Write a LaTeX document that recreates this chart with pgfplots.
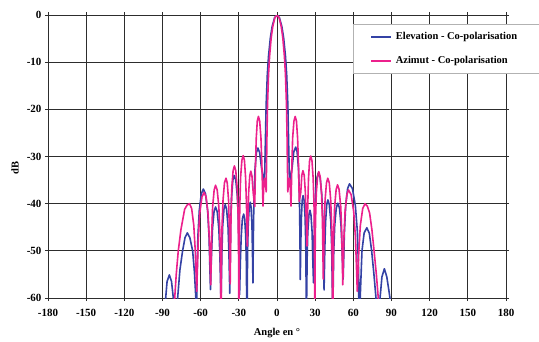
\documentclass[border=0pt]{standalone}
\usepackage{pgfplots}
\pgfplotsset{compat=1.18}
\usepackage{fontspec}
\setmainfont{Liberation Serif}
\definecolor{elev}{RGB}{52,66,165}
\definecolor{azim}{RGB}{236,32,140}
\definecolor{gridc}{RGB}{45,45,45}
\begin{document}
\begin{tikzpicture}
\begin{axis}[
  scale only axis, width=458pt, height=283pt,
  xmin=-180, xmax=180, ymin=-60, ymax=0,
  xtick={-180,-150,...,180}, ytick={-60,-50,...,0},
  grid=major, grid style={gridc, line width=0.8pt},
  axis line style={gridc, line width=0.8pt},
  tick style={gridc, line width=0.8pt},
  tick align=outside, major tick length=3pt,
  /pgf/number format/assume math mode=true,
  ticklabel style={font=\bfseries\fontsize{11}{13}\selectfont},
  xticklabel style={yshift=-5pt},
  xlabel={Angle en °}, ylabel={dB},
  label style={font=\bfseries\fontsize{10.5}{12}\selectfont},
  xlabel style={at={(axis description cs:0.5,-0.124)}, anchor=center},
  ylabel style={at={(axis description cs:-0.072,0.46)}, anchor=center},
  legend style={at={(axis description cs:0.666,0.968)}, anchor=north west,
    draw=gray!60, fill=white,
    font=\bfseries\fontsize{10.5}{12}\selectfont,
    inner xsep=17pt, inner ysep=6.5pt, row sep=12pt, column sep=3pt,
    nodes={inner sep=1pt, text height=7.5pt, text depth=2.5pt}},
  legend cell align=left,
  legend image code/.code={\draw[#1, line width=1.6pt] (0pt,0pt) -- (20pt,0pt);},
  every axis plot/.append style={line width=1.6pt, line join=round},
]
\addplot[color=elev] coordinates {
(-90.5,-70) (-87.5,-60) (-86.4,-56.5) (-84.6,-55.1) (-82.9,-56.5) (-81.5,-60) (-79.6,-75)
(-78.1,-60) (-76.3,-54) (-74.2,-50) (-72.3,-47.2) (-70.5,-46.2) (-68.5,-47.2) (-66.3,-50) (-64.9,-54.5) (-63.8,-60) (-63.3,-80)
(-62.9,-56.1) (-62.2,-47.1) (-61.1,-41.5) (-59.5,-37.9) (-57.9,-36.9) (-56.2,-37.9) (-54.5,-41.5) (-53.4,-47.1) (-52.3,-58.2)
(-51.5,-50.9) (-50.7,-45.3) (-49.5,-41.7) (-48.3,-40.7) (-47.0,-41.7) (-45.7,-45.3) (-44.9,-50.9) (-44,-61)
(-43.3,-50.4) (-42.7,-44.8) (-41.7,-41.2) (-40.7,-40.2) (-39.6,-41.2) (-38.5,-44.8) (-37.8,-50.4) (-37.1,-59)
(-36.4,-44.2) (-35.7,-38.6) (-34.7,-35.0) (-33.7,-34) (-32.4,-35.0) (-31.1,-38.6) (-30.3,-44.2) (-29.4,-59.3)
(-28.8,-52.4) (-28.1,-46.8) (-27.2,-43.2) (-26.2,-42.2) (-25.4,-43.2) (-24.6,-46.8) (-24.1,-52.4) (-23.8,-61.4) (-23.6,-80)
(-23.4,-58.9) (-23.1,-49.9) (-22.6,-44.3) (-21.8,-40.7) (-21,-39.7) (-20.4,-40.7) (-19.7,-44.3) (-19.3,-49.9) (-18.9,-56.8)
(-18.6,-47.4) (-18.1,-38.4) (-17.3,-32.8) (-16.2,-29.2) (-15,-28.2) (-13.6,-29.2) (-12.0,-32.8) (-9.8,-35.5)
(-9.03,-25.6) (-8.55,-19.2) (-7.6,-12.6) (-6.65,-8.7) (-5.23,-4.85) (-3.8,-2.42) (-1.9,-0.57) (0,0)
(1.9,-0.57) (3.8,-2.42) (5.23,-4.85) (6.65,-8.7) (7.6,-12.6) (8.55,-19.2) (9.03,-25.6) (9.8,-35.5)
(11.8,-32.6) (13.2,-29.0) (14.7,-28) (15.8,-29.0) (16.9,-32.6) (17.6,-38.2) (18.05,-47.2) (18.3,-56.1)
(18.7,-48.5) (19.2,-42.9) (19.8,-39.3) (20.5,-38.3) (21.3,-39.3) (22.1,-42.9) (22.6,-48.5) (22.9,-57.5) (23.1,-80)
(23.3,-60.6) (23.7,-51.6) (24.2,-46.0) (25.1,-42.4) (25.9,-41.4) (26.7,-42.4) (27.6,-46.0) (28.1,-51.6) (28.7,-56.8)
(29.5,-43.7) (30.2,-38.1) (31.4,-34.5) (32.5,-33.5) (33.9,-34.5) (35.2,-38.1) (36.1,-43.7) (37,-58.3)
(37.6,-49.4) (38.2,-43.8) (39.1,-40.2) (40,-39.2) (41.1,-40.2) (42.3,-43.8) (43.0,-49.4) (43.5,-58.4) (43.8,-80)
(44.1,-59.1) (44.6,-50.1) (45.4,-44.5) (46.6,-40.9) (47.8,-39.9) (49.1,-40.9) (50.3,-44.5) (51.2,-50.1) (52,-56)
(53.0,-46.0) (54.0,-40.4) (55.5,-36.8) (57,-35.8) (59.3,-36.8) (61.6,-40.4) (63.2,-46.0) (64.2,-55.0) (64.7,-80)
(65.4,-60) (66.8,-50) (68.5,-46.2) (70.6,-45.1) (72.6,-46.3) (74.4,-50) (76.2,-55) (77.8,-60) (78.8,-75)
(80.3,-65) (81.0,-60) (82.5,-55.5) (84.4,-53.8) (86.3,-55.5) (88.0,-58.5) (88.8,-60) (89.8,-66)
};
\addlegendentry{Elevation - Co-polarisation\hspace*{100pt}}
\addplot[color=azim] coordinates {
(-82,-70) (-80.4,-60) (-79.2,-55) (-77.6,-50) (-75.5,-45.5) (-72.6,-41.2) (-70.7,-40.3) (-68.8,-40)
(-67.1,-41.0) (-65.4,-44.6) (-64.2,-50.2) (-63.1,-58.6)
(-61.9,-47.8) (-60.8,-42.2) (-59.0,-38.6) (-57.3,-37.6) (-55.7,-38.6) (-54.2,-42.2) (-53.1,-47.8) (-52.1,-57.2)
(-51.3,-46.3) (-50.6,-40.7) (-49.4,-37.1) (-48.3,-36.1) (-47.0,-37.1) (-45.7,-40.7) (-44.9,-46.3) (-44.3,-55.3) (-44,-80)
(-43.7,-53.8) (-43.2,-44.8) (-42.4,-39.2) (-41.3,-35.6) (-40.1,-34.6) (-39.1,-35.6) (-38.1,-39.2) (-37.5,-44.8) (-36.8,-57)
(-36.1,-42.2) (-35.5,-36.6) (-34.5,-33.0) (-33.5,-32) (-32.4,-33.0) (-31.3,-36.6) (-30.6,-42.2) (-30.2,-51.2) (-29.9,-80)
(-29.7,-49.0) (-29.2,-40.0) (-28.6,-34.4) (-27.6,-30.8) (-26.6,-29.8) (-25.6,-30.8) (-24.7,-34.4) (-24.0,-40.0) (-23.4,-49)
(-22.8,-43.3) (-22.3,-37.7) (-21.4,-34.1) (-20.6,-33.1) (-19.7,-34.1) (-18.7,-37.7) (-17.5,-40.6)
(-16.9,-31.7) (-16.3,-26.1) (-15.5,-22.5) (-14.6,-21.5) (-13.6,-22.5) (-12.6,-26.1) (-11.9,-31.7) (-11.0,-40.5)
(-10.4,-36.3) (-9.7,-34.6) (-9.1,-35.5) (-8.5,-37.5)
(-7.89,-25.6) (-7.47,-19.2) (-6.64,-12.6) (-5.81,-8.7) (-4.57,-4.85) (-3.32,-2.42) (-1.66,-0.57) (0,0)
(1.66,-0.57) (3.32,-2.42) (4.57,-4.85) (5.81,-8.7) (6.64,-12.6) (7.47,-19.2) (7.89,-25.6)
(8.5,-37.5) (9.1,-35.5) (9.7,-34.6) (10.4,-36.3) (11.0,-40.5)
(11.7,-31.7) (12.3,-26.1) (13.3,-22.5) (14.3,-21.5) (15.3,-22.5) (16.2,-26.1) (16.9,-31.7) (17.5,-39.5)
(18.7,-37.6) (19.5,-34.0) (20.4,-33) (21.4,-34.0) (22.3,-37.6) (23.0,-43.2) (23.6,-49)
(24.2,-40.1) (24.8,-34.5) (25.6,-30.9) (26.5,-29.9) (27.5,-30.9) (28.4,-34.5) (29.1,-40.1) (29.5,-49.1) (29.7,-80)
(29.9,-52.4) (30.3,-43.4) (30.9,-37.8) (31.9,-34.2) (32.8,-33.2) (33.9,-34.2) (35.0,-37.8) (35.7,-43.4) (36.4,-56)
(37.1,-44.8) (37.8,-39.2) (38.9,-35.6) (39.9,-34.6) (41.1,-35.6) (42.2,-39.2) (43.0,-44.8) (43.5,-53.8) (43.8,-80)
(44.1,-55.2) (44.6,-46.2) (45.3,-40.6) (46.5,-37.0) (47.6,-36) (48.8,-37.0) (50.1,-40.6) (50.9,-46.2) (51.7,-57.2)
(52.6,-47.3) (53.5,-41.7) (54.9,-38.1) (56.2,-37.1) (58.3,-38.1) (60.3,-41.7) (61.7,-47.3) (63.1,-58.6)
(64.3,-50.2) (65.5,-44.6) (67.4,-41.0) (69.2,-40) (71.0,-40.5) (72.8,-42) (74.6,-45.5) (76.3,-50) (78.1,-55) (79.6,-60) (80.6,-66)
};
\addlegendentry{Azimut - Co-polarisation}
\end{axis}
\pgfresetboundingbox
\useasboundingbox (-48pt,-43pt) rectangle (491pt,298pt);
\end{tikzpicture}
\end{document}
